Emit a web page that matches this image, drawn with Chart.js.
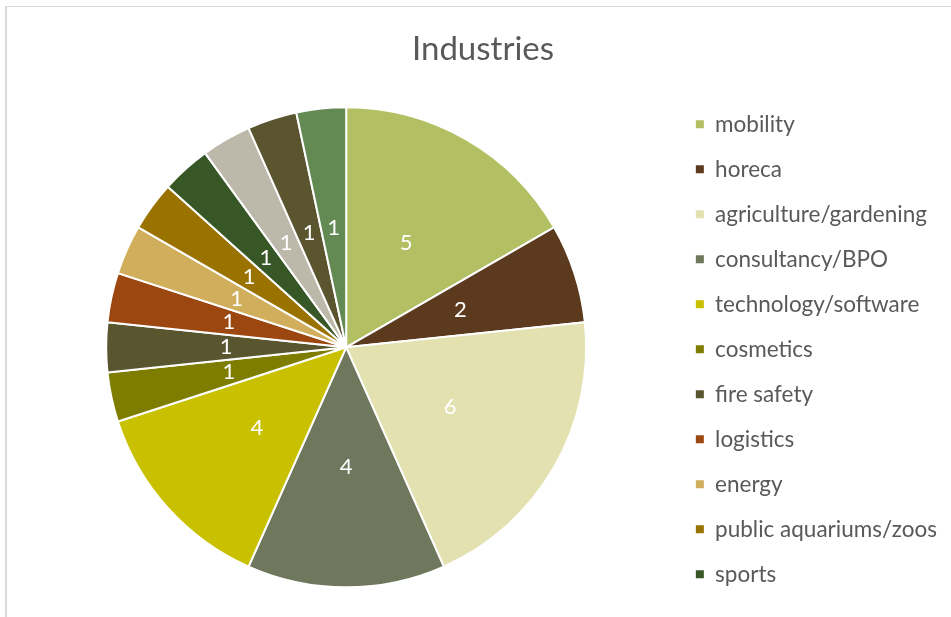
<!DOCTYPE html>
<html>
<head>
<meta charset="utf-8">
<title>Industries</title>
<script src="https://cdn.jsdelivr.net/npm/chart.js@4/dist/chart.umd.min.js"></script>
<style>
  html, body { margin: 0; padding: 0; background: #ffffff; overflow: hidden; width: 951px; height: 617px; }
  #frame {
    position: absolute; left: 5px; top: 6px;
    width: 1000px; height: 700px;
    border-top: 1px solid #d9d9d9; border-left: 2px solid #d9d9d9;
  }
  #chart { position: absolute; left: 0; top: 0; }
</style>
</head>
<body>
<div id="frame"><canvas id="chart" width="954" height="640"></canvas></div>
<script>
// Number of companies per industry
const industries = [
  'mobility', 'horeca', 'agriculture/gardening', 'consultancy/BPO',
  'technology/software', 'cosmetics', 'fire safety', 'logistics',
  'energy', 'public aquariums/zoos', 'sports', 'other (a)', 'other (b)', 'other (c)'
];
const counts = [5, 2, 6, 4, 4, 1, 1, 1, 1, 1, 1, 1, 1, 1];
const palette = [
  '#B3BF63', '#5B3A1E', '#E4E1B1', '#6F775C', '#C9C100', '#7F7D00', '#58552F',
  '#9D4710', '#D1AE5C', '#997200', '#385726', '#BDB9AA', '#5A552E', '#638A52'
];
// Entries that fit in the legend column
const legendEntries = 11;

const FONT = 'Lato, Carlito, "Noto Sans", sans-serif';

// Value labels written at the middle of each slice
const sliceLabels = {
  id: 'sliceLabels',
  afterDatasetsDraw(chart) {
    const ctx = chart.ctx;
    const meta = chart.getDatasetMeta(0);
    const values = chart.data.datasets[0].data;
    ctx.save();
    ctx.fillStyle = '#ffffff';
    ctx.font = '22px ' + FONT;
    ctx.textAlign = 'center';
    ctx.textBaseline = 'middle';
    meta.data.forEach((arc, i) => {
      const p = arc.tooltipPosition();
      ctx.fillText(String(values[i]), p.x, p.y);
    });
    ctx.restore();
  }
};

new Chart(document.getElementById('chart'), {
  type: 'pie',
  data: {
    labels: industries,
    datasets: [{
      data: counts,
      backgroundColor: palette,
      borderColor: '#ffffff',
      borderWidth: 2,
      radius: 240
    }]
  },
  options: {
    responsive: false,
    animation: false,
    devicePixelRatio: 1,
    layout: { padding: { top: 0, left: 12, right: 14, bottom: 39 } },
    plugins: {
      tooltip: { enabled: false },
      title: {
        display: true,
        text: 'Industries',
        color: '#595959',
        font: { family: FONT, size: 33, weight: 'normal' },
        padding: { top: 23, bottom: 17 }
      },
      legend: {
        position: 'right',
        align: 'end',
        labels: {
          color: '#595959',
          font: { family: FONT, size: 22.5 },
          boxWidth: 8,
          boxHeight: 8,
          padding: 22.5,
          generateLabels(chart) {
            const base = Chart.overrides.pie.plugins.legend.labels.generateLabels(chart);
            return base.map(item => Object.assign(item, { lineWidth: 0, strokeStyle: 'rgba(0,0,0,0)' }));
          },
          filter: (item) => item.index < legendEntries
        }
      }
    }
  },
  plugins: [sliceLabels]
});
</script>
</body>
</html>
